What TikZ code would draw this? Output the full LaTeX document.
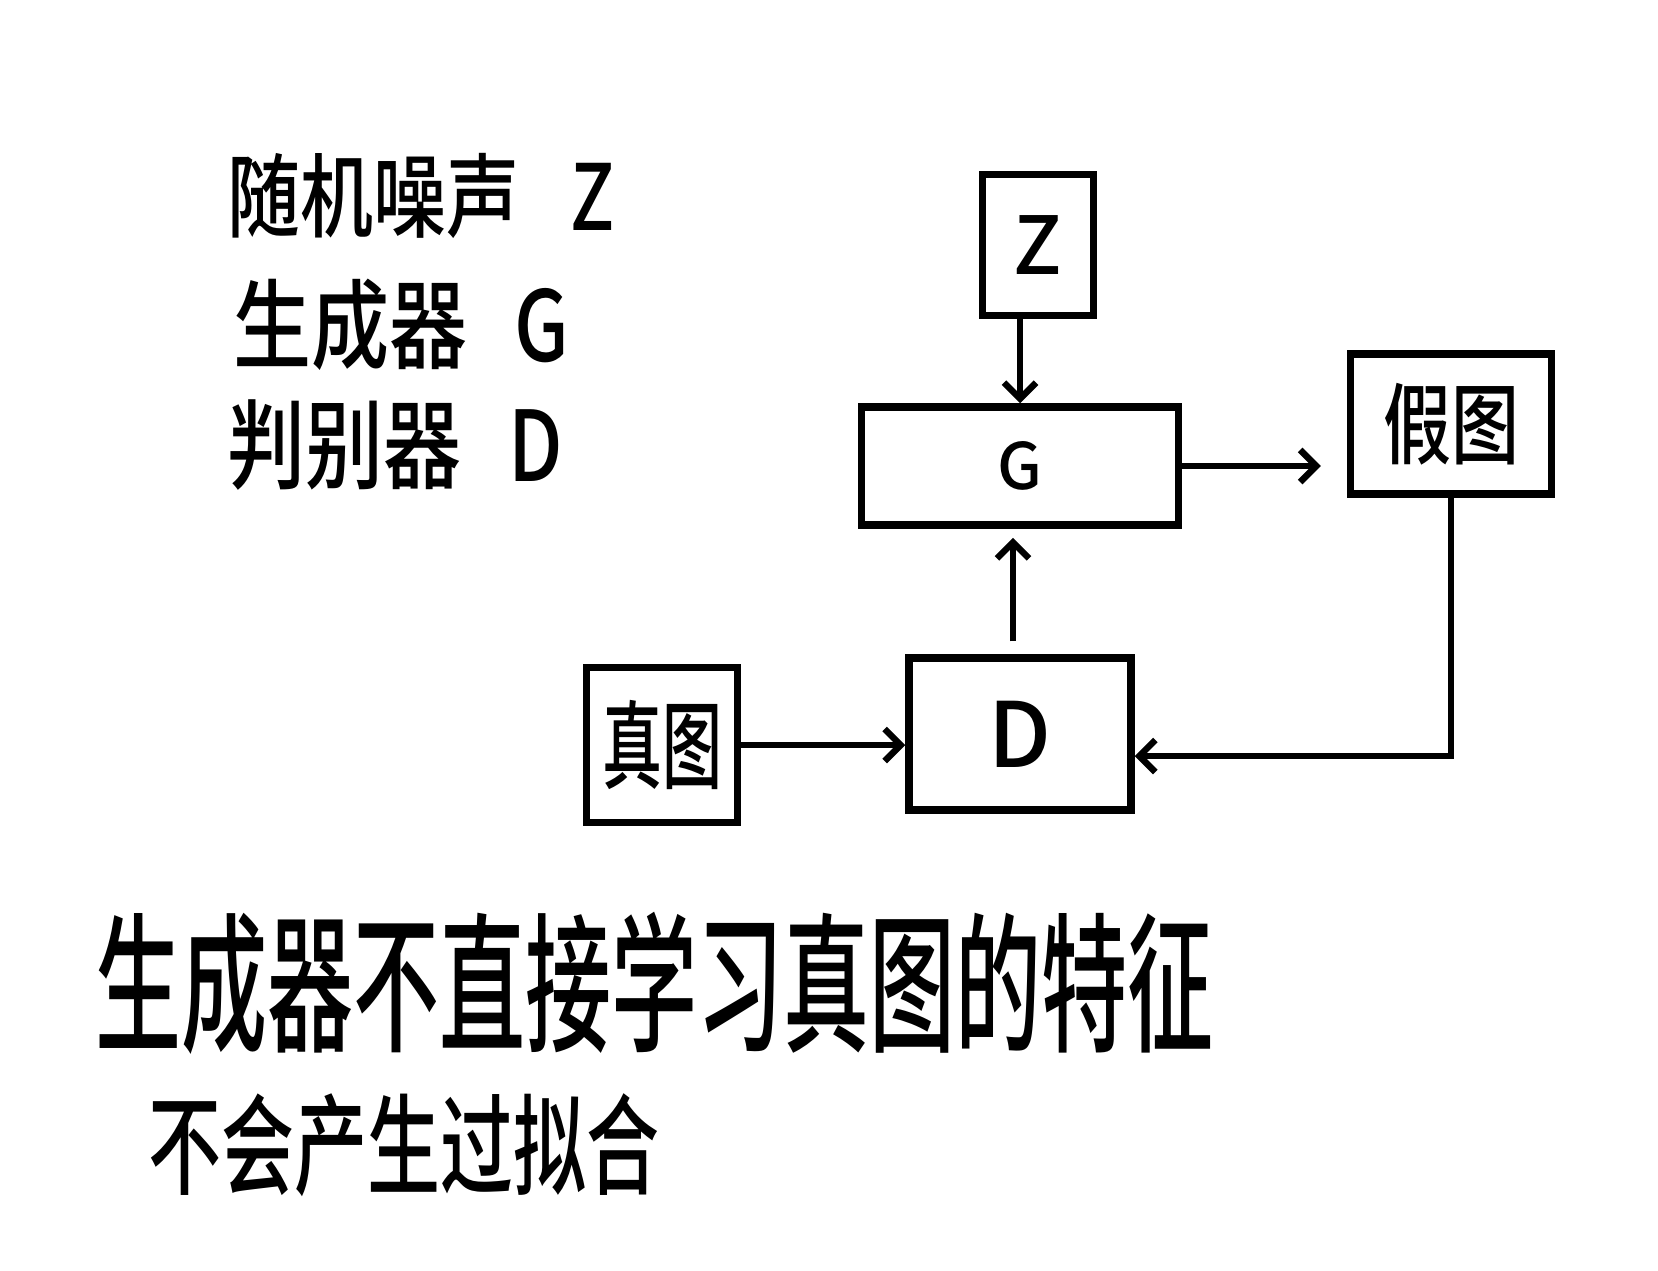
\documentclass[tikz,border=0pt]{standalone}
\usepackage{fontspec}
\usepackage{graphicx}
\setmainfont{Noto Sans CJK SC}[UprightFont=* Medium]
\usetikzlibrary{arrows.meta}
\begin{document}
\begin{tikzpicture}[x=1pt,y=-1pt,
  box/.style={draw,line width=7.5pt,inner sep=0pt},
  lbl/.style={anchor=west,inner sep=0pt},
  arr/.style={line width=6.5pt,-{Straight Barb[length=16pt,width=32pt]}}]
\useasboundingbox[fill=white] (0,0) rectangle (1658,1270);
% legend
\node[lbl] (l1) at (227,196) {\scalebox{1}[1.25]{\fontsize{73}{73}\selectfont 随机噪声\hspace{0.7em}Z}};
\node[lbl] (l2) at (233,325) {\scalebox{1}[1.25]{\fontsize{78}{78}\selectfont 生成器\hspace{0.6em}G}};
\node[lbl] (l3) at (227,445) {\scalebox{1}[1.25]{\fontsize{78}{78}\selectfont 判别器\hspace{0.6em}D}};
% boxes
\node[box,minimum width=111pt,minimum height=141pt] (z) at (1038,245) {\fontsize{80}{80}\selectfont Z};
\node[box,minimum width=317pt,minimum height=118pt] (g) at (1020,466) {\fontsize{64}{64}\selectfont G};
\node[box,minimum width=201pt,minimum height=140pt] (fake) at (1451,424) {\scalebox{1}[1.3]{\fontsize{68}{68}\selectfont 假图}};
\node[box,minimum width=222pt,minimum height=152pt] (d) at (1020,734) {\fontsize{90}{90}\selectfont D};
\node[box,minimum width=151pt,minimum height=155pt] (real) at (662,745) {\scalebox{1}[1.6]{\fontsize{60}{60}\selectfont 真图}};
% arrows
\draw[arr] (g.north |- z.south) -- (g.north);
\draw[arr] ([xshift=-7pt,yshift=13pt]d.north) -- ([xshift=-7pt,yshift=-9pt]g.south);
\draw[arr] (g.east) -- ([xshift=-26pt]fake.west |- g.east);
\draw[arr] (real.east) -- (real.east -| d.west);
\draw[arr] (fake.south) |- ([yshift=-22pt]d.east);
% bottom text
\node[lbl] (b1) at (95,983) {\scalebox{1}[1.75]{\fontsize{86}{86}\selectfont 生成器不直接学习真图的特征}};
\node[lbl] (b2) at (148,1145) {\scalebox{1}[1.5]{\fontsize{73}{73}\selectfont 不会产生过拟合}};
\end{tikzpicture}
\end{document}
